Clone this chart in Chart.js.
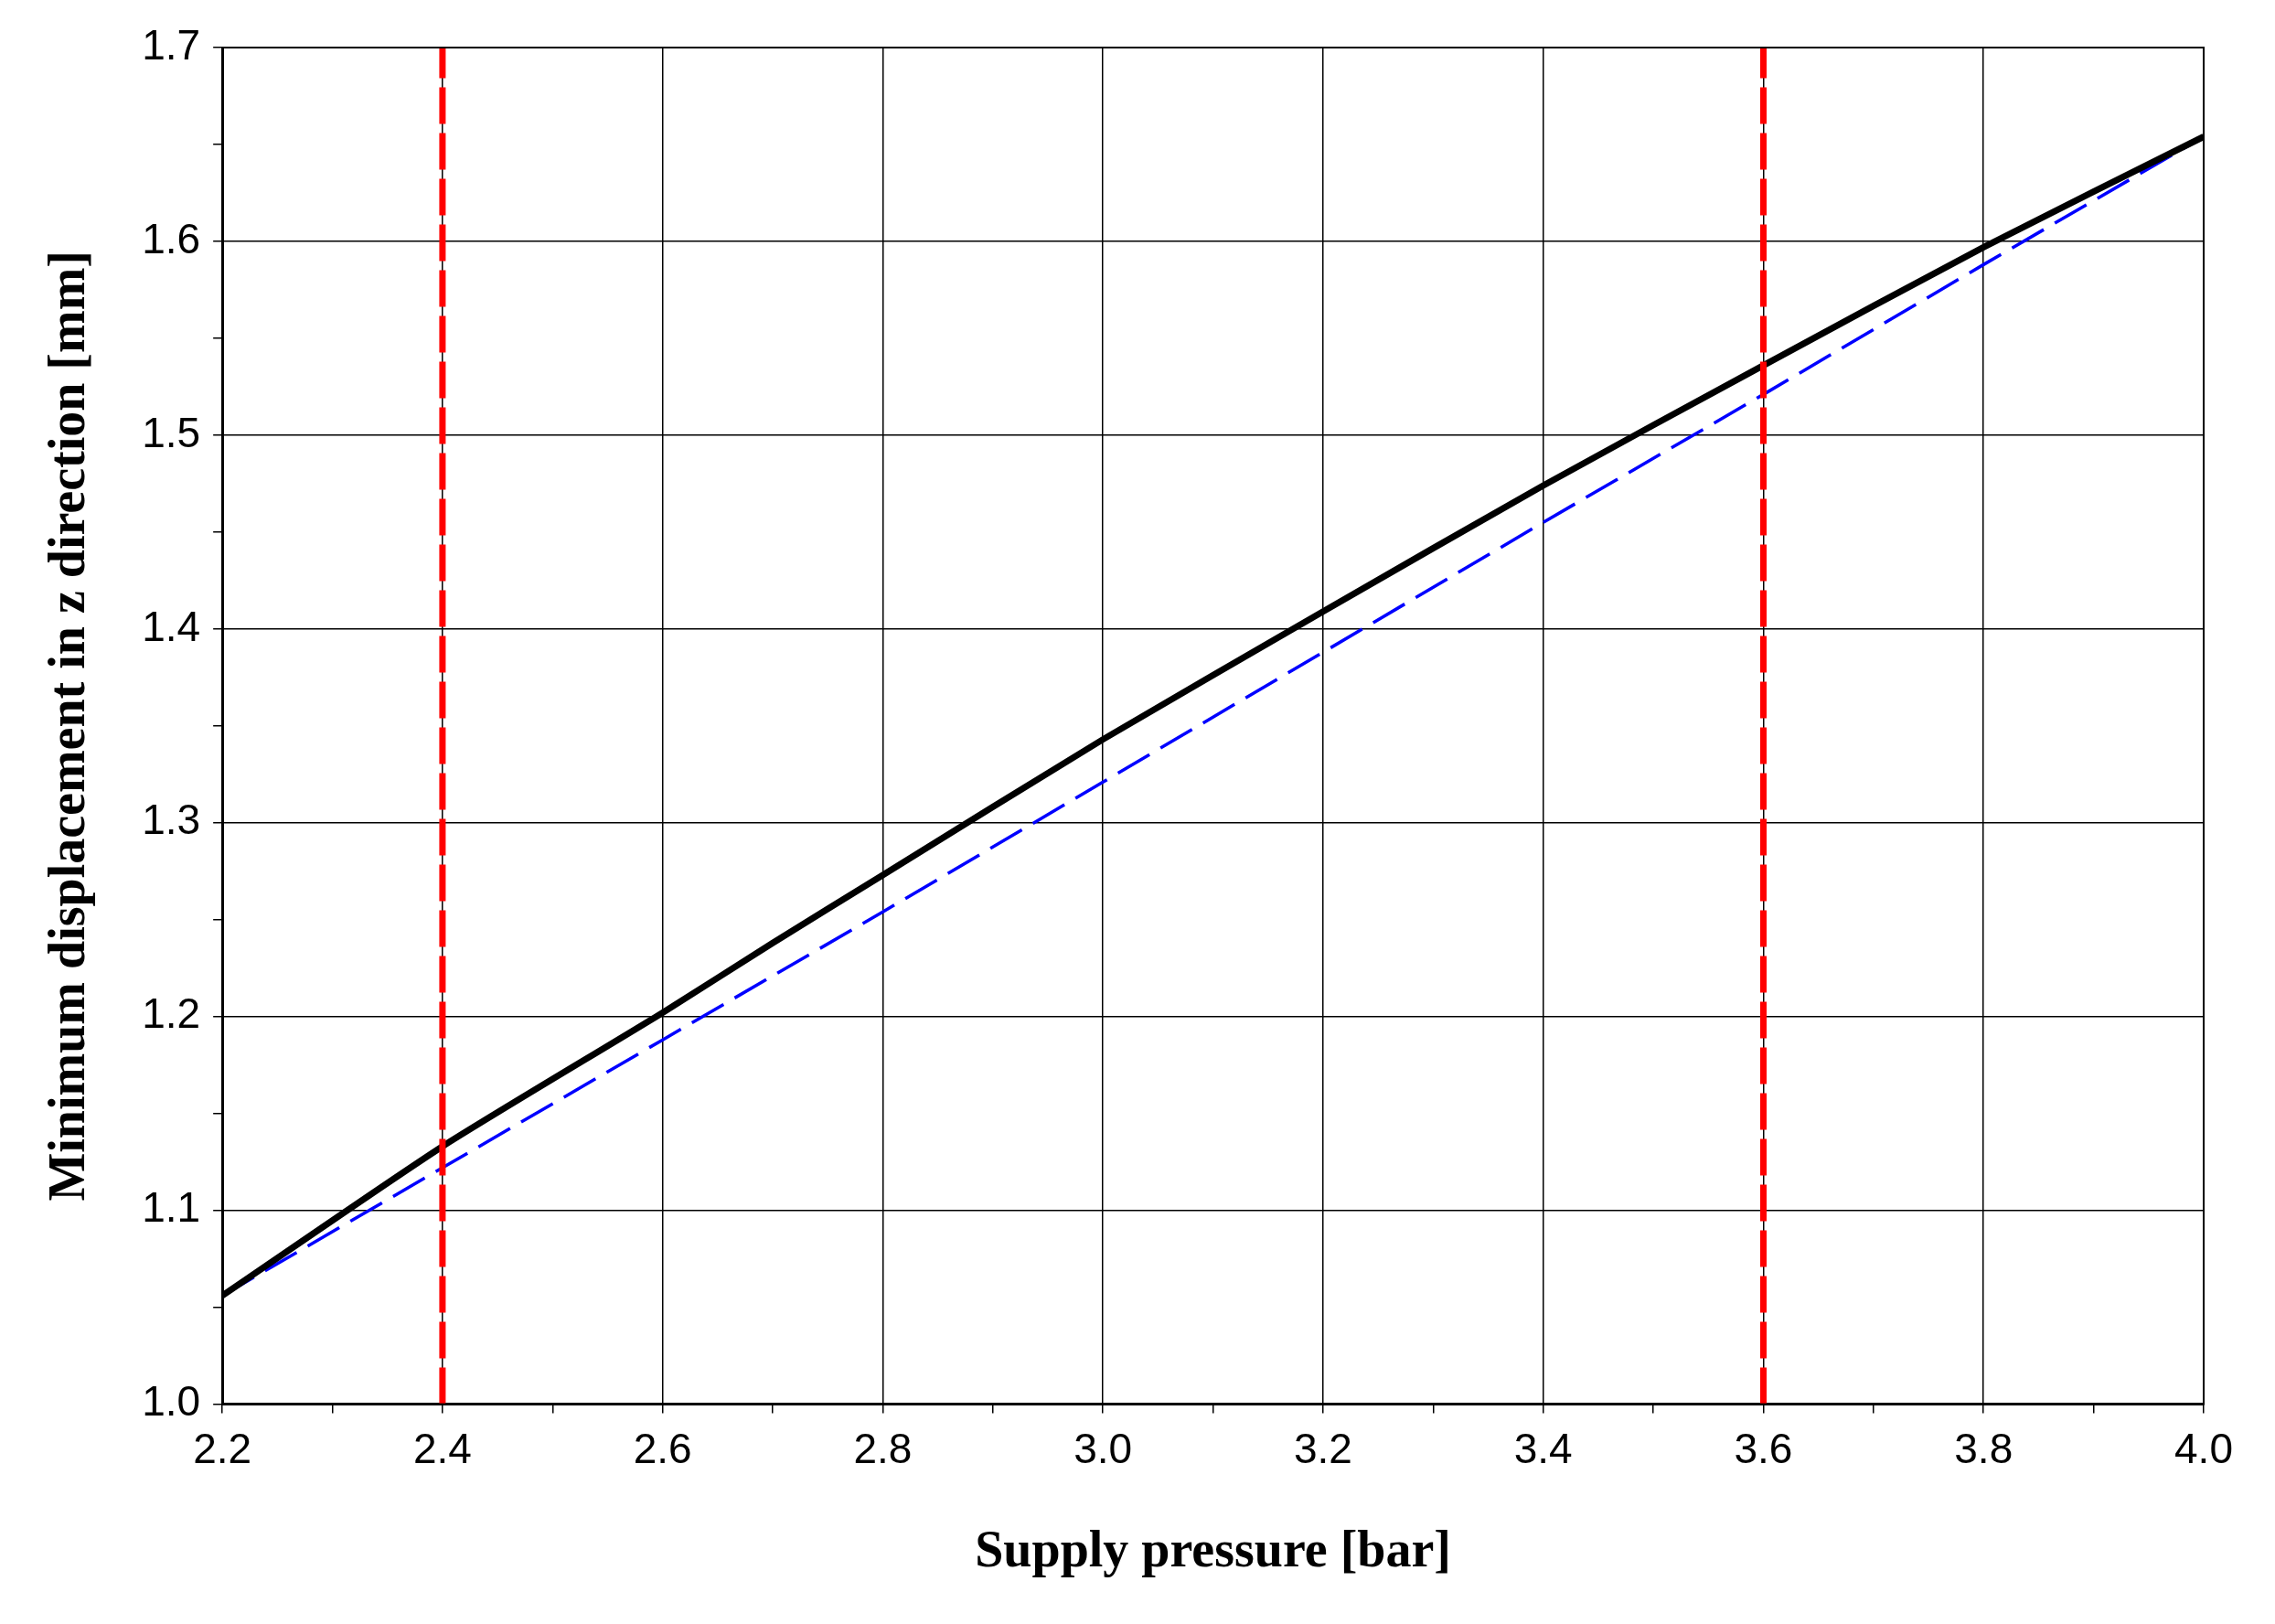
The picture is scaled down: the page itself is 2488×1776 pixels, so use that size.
<!DOCTYPE html>
<html><head><meta charset="utf-8">
<script src="https://cdn.jsdelivr.net/npm/chart.js@4/dist/chart.umd.min.js"></script>
<style>html,body{margin:0;padding:0;background:#fff}</style>
</head><body>
<canvas id="c" width="2488" height="1776"></canvas>
<script>
const pressure = [2.2, 2.4, 2.6, 2.7, 2.8, 3.0, 3.2, 3.4, 3.6, 3.8, 4.0];
const displacementSolid = [1.056, 1.133, 1.202, 1.238, 1.273, 1.343, 1.409, 1.474, 1.536, 1.597, 1.654];
const pressureLinear = [2.2, 2.4, 2.6, 2.8, 3.0, 3.2, 3.4, 3.6, 3.8, 4.0];
const displacementDashed = [1.056, 1.122, 1.188, 1.254, 1.321, 1.388, 1.455, 1.521, 1.588, 1.654];
const limitLines = [2.4, 3.6];
const yRange = [1.0, 1.7];

const ds = [
  {data: pressure.map((x,i)=>({x, y: displacementSolid[i]})), borderColor:'#000', borderWidth:7, pointRadius:0, tension:0.2, order:1},
  {data: pressureLinear.map((x,i)=>({x, y: displacementDashed[i]})), borderColor:'#0000ff', borderWidth:3.5, borderDash:[40,14], pointRadius:0, order:2},
];
limitLines.forEach(x=>ds.push({data:[{x,y:yRange[0]},{x,y:yRange[1]}], borderColor:'#ff0000', borderWidth:7, borderDash:[40,10], pointRadius:0, order:0}));

new Chart(document.getElementById('c'), {
  type:'line',
  data:{datasets:ds},
  options:{
    responsive:false, animation:false, devicePixelRatio:1,
    layout:{padding:{left:40, right:78, top:52, bottom:40}},
    plugins:{legend:{display:false}, tooltip:{enabled:false}},
    scales:{
      x:{type:'linear', min:2.2, max:4.0,
        ticks:{stepSize:0.1, color:'#000', font:{family:'Liberation Sans', size:46}, padding:14,
          callback:(v)=>{const k=Math.round(v*10); return k%2===0 ? v.toFixed(1) : '';}},
        grid:{color:(c)=>Math.round(c.tick.value*10)%2===0?'#000':'rgba(0,0,0,0)', lineWidth:1.5, tickColor:'#000', tickLength:10},
        border:{color:'#000', width:3},
        title:{display:true, text:'Supply pressure [bar]', color:'#000', font:{family:'Liberation Serif', size:56, weight:'bold'}, padding:{top:36}}},
      y:{min:1.0, max:1.7,
        ticks:{stepSize:0.05, color:'#000', font:{family:'Liberation Sans', size:46}, padding:14,
          callback:(v)=>{const k=Math.round(v*100); return k%10===0 ? v.toFixed(1) : '';}},
        grid:{color:(c)=>Math.round(c.tick.value*100)%10===0?'#000':'rgba(0,0,0,0)', lineWidth:1.5, tickColor:'#000', tickLength:10},
        border:{color:'#000', width:3},
        title:{display:true, text:'Minimum displacement in z direction [mm]', color:'#000', font:{family:'Liberation Serif', size:56, weight:'bold'}, padding:{bottom:30}}}
    }
  },
  plugins:[{id:'frame', afterDraw(ch){const a=ch.chartArea,x=ch.ctx;x.save();x.strokeStyle='#000';x.lineWidth=2;x.strokeRect(a.left,a.top,a.right-a.left,a.bottom-a.top);x.restore();}}]
});
</script>
</body></html>
